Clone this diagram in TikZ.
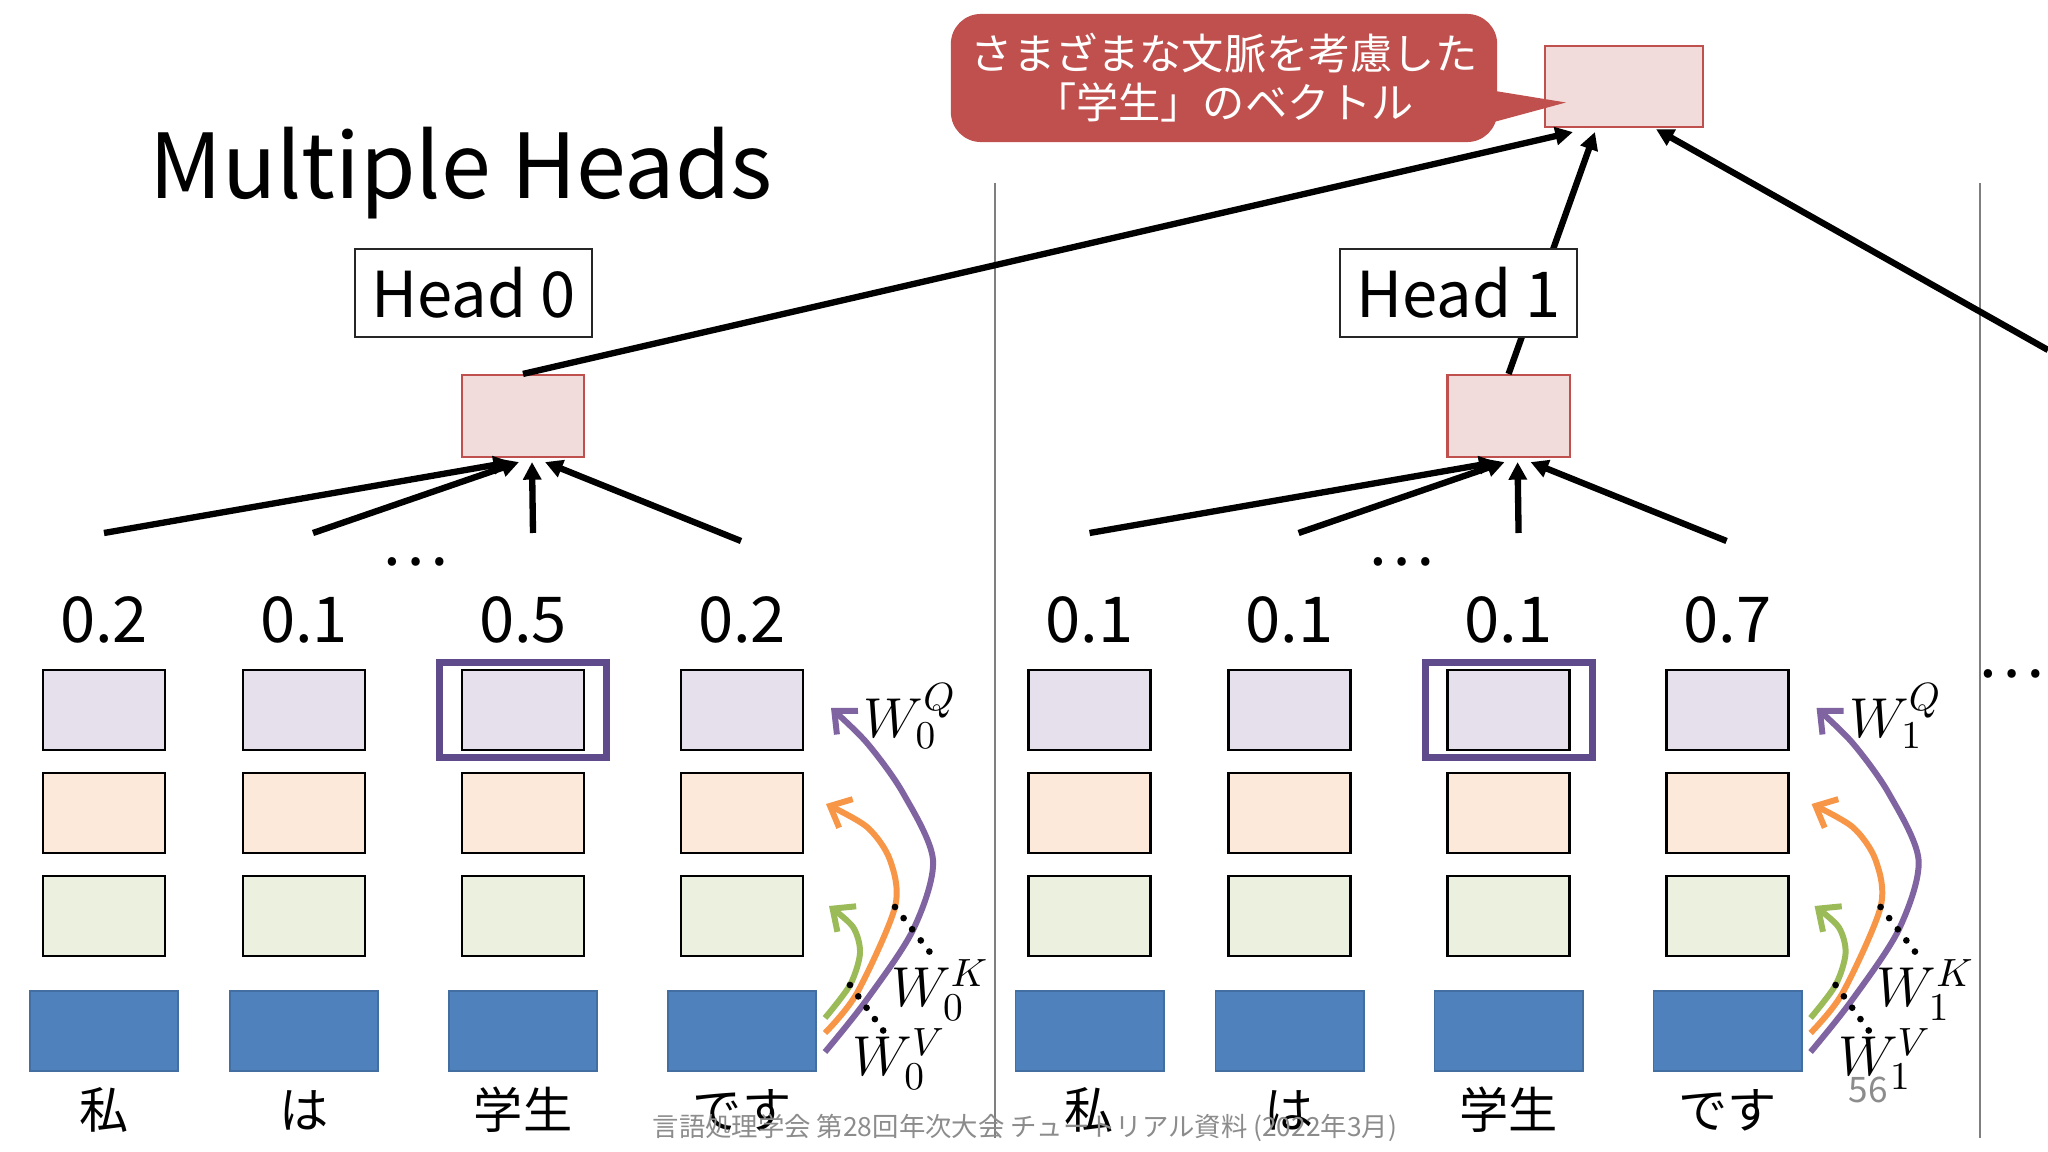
\RequirePackage{fix-cm}
\documentclass[tikz,border=0pt]{standalone}
\usepackage[no-math]{fontspec}
\setmainfont{Noto Sans CJK JP}
\usetikzlibrary{arrows.meta,positioning,calc}
\definecolor{QueryFill}{HTML}{E5E0EC}
\definecolor{KeyFill}{HTML}{FDE9D9}
\definecolor{ValueFill}{HTML}{EBF1DE}
\definecolor{EmbedBlue}{HTML}{4F81BD}
\definecolor{SumPink}{HTML}{F2DCDB}
\definecolor{SumRed}{HTML}{C0504D}
\definecolor{PickPurple}{HTML}{5F4B8B}
\definecolor{ProjPurple}{HTML}{8064A2}
\definecolor{ProjOrange}{HTML}{F79646}
\definecolor{ProjGreen}{HTML}{9BBB59}
\definecolor{RuleGray}{HTML}{7F7F7F}
\definecolor{NoteGray}{HTML}{8C8C8C}
\newcommand{\setfs}[1]{\fontsize{#1}{#1}\selectfont}

\begin{document}
\begin{tikzpicture}[x=0.01cm,y=-0.01cm,
  vec/.style={draw=black,line width=0.7pt,minimum width=1.22cm,minimum height=0.8cm,inner sep=0pt},
  qvec/.style={vec,fill=QueryFill},
  kvec/.style={vec,fill=KeyFill},
  vvec/.style={vec,fill=ValueFill},
  embed/.style={draw=EmbedBlue!85!black,line width=0.5pt,fill=EmbedBlue,
    minimum width=1.48cm,minimum height=0.8cm,inner sep=0pt},
  sumvec/.style={draw=SumRed,line width=0.6pt,fill=SumPink,
    minimum width=1.22cm,minimum height=0.82cm,inner sep=0pt},
  pick/.style={draw=PickPurple,line width=2pt,minimum width=1.67cm,minimum height=0.94cm,inner sep=0pt},
  headtag/.style={draw=black!85,line width=0.5pt,fill=white,minimum width=2.37cm,
    minimum height=0.88cm,inner sep=0pt,font=\setfs{18}},
  weight/.style={font=\setfs{18},inner sep=0pt,anchor=south},
  word/.style={font=\setfs{14},inner sep=0pt},
  wlabel/.style={font=\setfs{16},inner sep=0pt},
  agg/.style={-{Triangle[length=5pt,width=5pt]},line width=1.8pt},
  proj/.style={-{Straight Barb[length=5pt,width=9pt]},line width=1.7pt},
  leader/.style={line width=1.9pt,line cap=round,dash pattern=on 0pt off 4pt},
  dotsrow/.style={font=\setfs{18},inner sep=0pt}]
\useasboundingbox[fill=white] (0,0) rectangle (2048,1152);

% title, separators
\node[anchor=base,font=\setfs{25.5}] (title) at (461,199) {Multiple Heads};
\draw[RuleGray,line width=0.45pt] (995,183) -- (995,1138);
\draw[RuleGray,line width=0.45pt] (1980,183) -- (1980,1138);

% heads
\foreach \hd/\vals in {0/{0.2,0.1,0.5,0.2},1/{0.1,0.1,0.1,0.7}}{
\begin{scope}[xshift=\hd*9.85cm]
  \foreach \x/\w [count=\col] in {104/私,304/は,523/学生,742/です}{
    \node[qvec] (q\hd-\col) at (\x,710) {};
    \node[kvec] (k\hd-\col) at (\x,813) {};
    \node[vvec] (v\hd-\col) at (\x,916) {};
    \node[embed] (e\hd-\col) at (\x,1031) {};
    \node[word] (w\hd-\col) at (\x,1110) {\w};
  }
  \foreach \val [count=\col] in \vals
    \node[weight] (n\hd-\col) at ([yshift=0.25cm]q\hd-\col.north) {\val};
  \node[pick] (pick\hd) at (q\hd-3) {};
  \node[sumvec] (sum\hd) at (523,416) {};
  \node[dotsrow] (dots\hd) at (415,562) {⋯};
  \foreach \px/\py/\ex [count=\col] in {104/533/-0.12,313/533/-0.04,533/533/0.09,741/541/0.22}{
    \coordinate (in\hd-\col) at (\px,\py);
    \draw[agg] (in\hd-\col) -- ([xshift=\ex cm,yshift=-0.04cm]sum\hd.south);
  }
  % projections
  \draw[proj,ProjPurple] plot[smooth] coordinates {(825,1052) (865,1002) (913,930) (933,860) (903,793) (867,743) (831,708)};
  \draw[proj,ProjOrange] plot[smooth] coordinates {(825,1033) (857,993) (895,907) (890,860) (867,827) (826,804)};
  \draw[proj,ProjGreen] plot[smooth] coordinates {(825,1018) (850,985) (860,953) (853,927) (829,906)};
  \coordinate (kon\hd) at (895,907);
  \coordinate (koff\hd) at (932,955);
  \coordinate (von\hd) at (850,985);
  \coordinate (voff\hd) at (885,1033);
  \draw[leader] (kon\hd) -- (koff\hd);
  \draw[leader] (von\hd) -- (voff\hd);
  \node[wlabel] (wq\hd) at (910,716) {$W_{\hd}^{Q}$};
  \node[wlabel] (wk\hd) at (940,990) {$W_{\hd}^{K}$};
  \node[wlabel] (wv\hd) at (899,1059) {$W_{\hd}^{V}$};
\end{scope}
}
\node[dotsrow] (dotsmore) at (2011,674) {⋯};

% combined vector and note
\node[sumvec,minimum width=1.58cm,minimum height=0.81cm] (top) at (1624,86.5) {};
\coordinate (head2) at (2048,350);
\draw[agg] (sum0.north) -- ([xshift=0.29cm,yshift=-0.04cm]top.south west);
\draw[agg] (sum1.north) -- ([xshift=0.51cm,yshift=-0.04cm]top.south west);
\draw[agg] (head2) -- ([xshift=0.32cm,yshift=-0.01cm]top.south);
\foreach \hd in {0,1}
  \node[headtag] (tag\hd) at (473.5+985*\hd,293) {Head \hd};
\node[fill=SumRed,rounded corners=0.3cm,minimum width=5.46cm,minimum height=1.28cm,
  text=white,align=center,inner sep=0pt,font={\fontsize{12}{14}\selectfont}] (note) at (1224,78)
  {さまざまな文脈を考慮した\\「学生」のベクトル};
\coordinate (tip) at ($(top.west)+(22,16)$);
\fill[SumRed] ($(note.east)+(-15,11)$) -- (tip) -- ($(note.east)+(-15,47)$) -- cycle;

% footer
\node[text=NoteGray,font=\setfs{10}] (page) at (1868,1090) {56};
\node[text=NoteGray,font=\setfs{7.5}] (footer) at (1025,1128)
  {言語処理学会 第28回年次大会 チュートリアル資料 (2022年3月)};
\end{tikzpicture}
\end{document}
